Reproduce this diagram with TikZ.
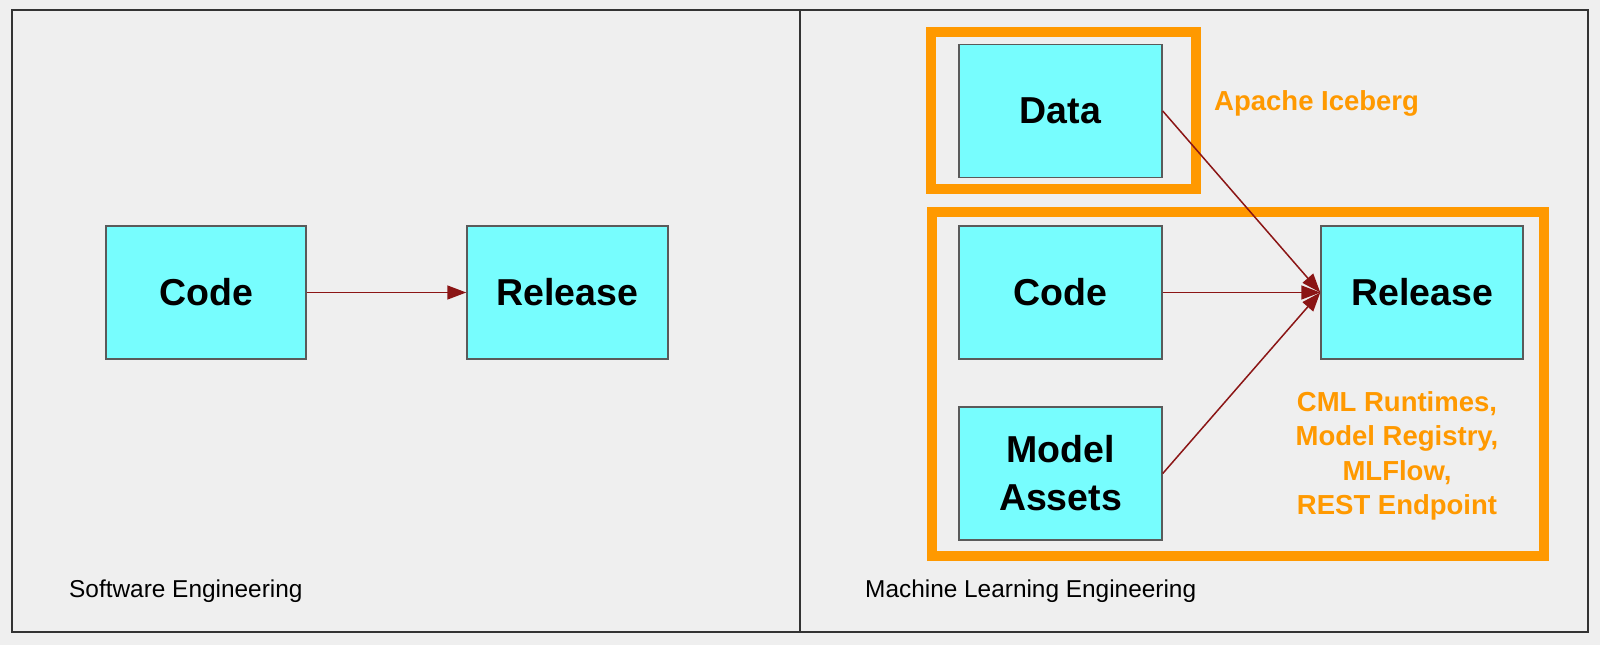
\documentclass[tikz,border=0pt]{standalone}
\usepackage{fontspec}
\setmainfont{Liberation Sans}
\usetikzlibrary{arrows.meta}
\definecolor{bg}{HTML}{EFEFEF}
\definecolor{cyanbox}{HTML}{77FDFE}
\definecolor{boxedge}{HTML}{5A5A5A}
\definecolor{frameline}{HTML}{333333}
\definecolor{orng}{HTML}{FF9900}
\definecolor{arrowred}{HTML}{8B1515}
\tikzset{
  stagebox/.style={draw=boxedge, line width=1.5pt, fill=cyanbox, inner sep=0pt,
    minimum width=202pt, minimum height=133pt, align=center,
    font=\bfseries\fontsize{37.5}{48}\selectfont},
  flow/.style={draw=arrowred, line width=1.5pt, -{Triangle[length=19pt,width=14pt]}},
  hilite/.style={draw=orng, line width=10pt},
  orangetext/.style={text=orng, font=\bfseries\fontsize{27.5}{34.5}\selectfont, inner sep=0pt, align=center},
  paneltitle/.style={font=\fontsize{24.4}{29}\selectfont, inner sep=0pt, anchor=base west},
}
\begin{document}
\begin{tikzpicture}[x=1pt,y=-1pt]
\useasboundingbox (0,0) rectangle (1600,645);
\fill[bg] (0,0) rectangle (1600,645);
% panels
\draw[frameline, line width=2pt] (12,10) rectangle (1588,632);
\draw[frameline, line width=2pt] (800,10) -- (800,632);
% left panel
\node[stagebox, minimum width=200pt] (code1) at (206,292.5) {Code};
\node[stagebox, minimum width=201pt] (rel1) at (567.5,292.5) {Release};
\draw[flow] (code1.east) -- (rel1.west);
\node[paneltitle] (t1) at (69,597) {Software Engineering};
% right panel
\node[stagebox, minimum width=203pt] (data) at (1060.5,111) {Data};
\node[stagebox, minimum width=203pt] (code2) at (1060.5,292.5) {Code};
\node[stagebox, minimum width=203pt] (model) at (1060.5,473.5) {Model\\Assets};
\node[stagebox] (rel2) at (1422,292.5) {Release};
\draw[hilite] (931,32) rectangle (1196,188.5);
\draw[hilite] (932,211.7) rectangle (1544,555.7);
\draw[flow] (data.east) -- (rel2.west);
\draw[flow] (code2.east) -- (rel2.west);
\draw[flow] (model.east) -- (rel2.west);
\node[orangetext, anchor=base west] (ice) at (1214,110) {Apache Iceberg};
\node[orangetext] (cml) at (1397,456) {CML Runtimes,\\Model Registry,\\MLFlow,\\REST Endpoint};
\node[paneltitle] (t2) at (865,597) {Machine Learning Engineering};
\end{tikzpicture}
\end{document}
